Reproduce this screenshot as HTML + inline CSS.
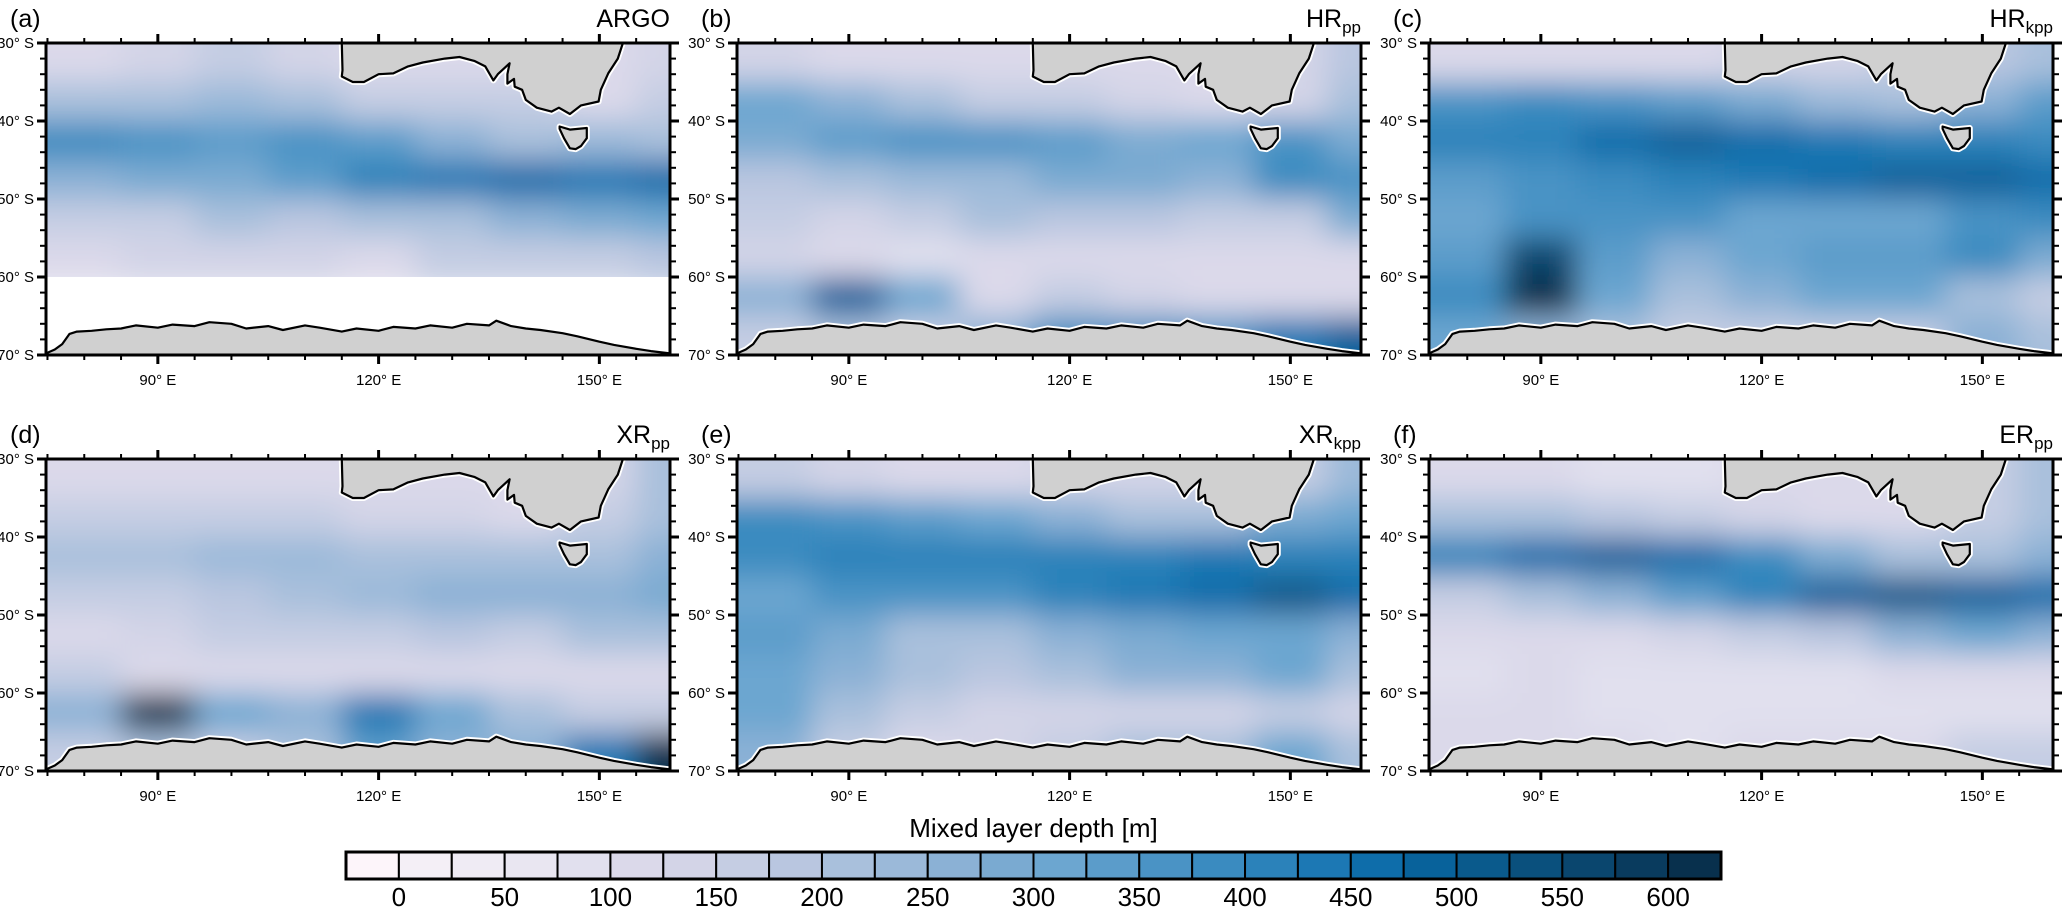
<!DOCTYPE html>
<html>
<head>
<meta charset="utf-8">
<style>
html,body{margin:0;padding:0;background:#fff;}
body{width:2067px;height:908px;overflow:hidden;font-family:"Liberation Sans",Arial,sans-serif;}
svg text{font-family:"Liberation Sans",Arial,sans-serif;}
</style>
</head>
<body>
<svg id="fig" width="2067" height="908" viewBox="0 0 2067 908" xmlns="http://www.w3.org/2000/svg">
<defs>
<filter id="blur" x="-10%" y="-10%" width="120%" height="120%"><feGaussianBlur stdDeviation="15"/></filter>
</defs>
</svg>
<script>
// ---- data ----
const panelLetters = ["(a)","(b)","(c)","(d)","(e)","(f)"];
const panelTitles = ["ARGO","HR","HR","XR","XR","ER"];
const panelSubs = ["","pp","kpp","pp","kpp","pp"];
const lonCenters = [80,90,100,110,120,130,140,150,160];
const latCenters = [32.5,37.5,42.5,47.5,52.5,57.5,62.5,67.5];
const latTicks = [30,40,50,60,70];
const lonTicks = [90,120,150];
const cbarLabels = [0,50,100,150,200,250,300,350,400,450,500,550,600];
const cbarColors = ["#fdf5fa","#f4eff6","#efebf4","#e9e6f1","#e1e0ee","#dbd9ea","#d3d4e7","#c5cde3","#b9c6e0","#a9c0dc","#9bb9d9","#8bb1d5","#7aaad1","#6ca6d0","#5b9cca","#4a93c5","#3a8bc0","#2b82ba","#1c78b4","#0e6daa","#08629b","#0a5a8c","#0a507d","#0a466e","#093b5e","#08304d"];
const mldA = [
[120,140,150,130,120,110,100,110,130],
[200,220,230,200,170,150,160,120,150],
[380,350,330,360,330,250,220,240,200],
[270,280,280,330,400,430,450,430,450],
[150,160,200,180,200,220,250,280,300],
[110,130,140,140,120,150,160,150,180],
[null,null,null,null,null,null,null,null,null],
[null,null,null,null,null,null,null,null,null]];
const mldB = [
[130,110,100,110,120,120,120,130,180],
[300,260,200,170,150,140,120,140,200],
[280,330,360,370,330,280,300,350,280],
[180,200,230,240,280,280,260,380,350],
[150,140,170,200,180,180,170,160,280],
[140,100,90,100,120,100,120,100,100],
[250,480,300,120,160,130,110,100,100],
[150,200,150,250,380,380,350,430,480]];
const mldC = [
[120,110,100,120,130,130,150,180,200],
[350,380,370,340,280,230,200,250,330],
[400,400,450,480,470,440,400,400,380],
[330,360,380,400,430,460,480,480,460],
[300,350,350,350,300,300,300,350,380],
[330,550,330,250,300,330,330,380,280],
[380,600,300,200,250,300,300,200,150],
[300,250,200,150,150,150,150,250,200]];
const mldD = [
[120,110,100,100,100,110,110,130,200],
[170,170,160,150,140,130,120,160,220],
[200,220,240,230,220,200,200,220,260],
[150,170,190,200,230,250,250,270,280],
[120,130,150,160,170,180,170,200,220],
[150,120,110,100,100,100,110,110,120],
[250,600,300,250,430,300,200,150,150],
[150,200,150,200,330,250,250,430,600]];
const mldE = [
[150,130,120,120,130,130,140,170,230],
[380,360,330,300,250,220,200,280,320],
[380,420,420,420,420,420,440,420,400],
[320,350,360,360,400,430,450,500,460],
[330,280,200,220,260,280,300,300,260],
[300,250,200,180,220,250,260,300,220],
[300,200,150,140,130,130,130,150,130],
[250,150,120,130,150,200,200,300,200]];
const mldF = [
[100,100,90,90,100,100,120,150,200],
[200,200,180,150,130,120,120,150,200],
[420,470,480,450,380,280,200,200,250],
[150,200,260,330,420,480,500,480,450],
[100,110,120,130,150,180,250,300,250],
[80,100,90,90,90,90,100,110,100],
[100,120,90,80,80,90,90,90,90],
[100,100,100,80,100,100,120,150,150]];
const fields = [mldA,mldB,mldC,mldD,mldE,mldF];
const australiaLon = [115.0,115.1,115.0,116.5,118,120,122,124,126,129,131,133,134.5,135.6,136.2,137.8,137.5,137.5,138.4,138.5,139.5,140,141.5,143.5,144.5,146.0,147.5,149.9,150.2,151.2,152.5,153.2];
const australiaLat = [30,33.5,34.3,35.0,35.0,34.0,33.9,33.0,32.5,32.0,31.8,32.3,33,34.8,34.0,32.6,34,35.2,34.6,35.6,36,37.3,38.3,38.8,38.3,39.1,38,37.5,36,33.9,32.0,30];
const tasmaniaLon = [144.6,146,148.3,148.3,147.5,146.8,146,145.2,144.6];
const tasmaniaLat = [40.7,41.1,40.9,42.2,43.2,43.6,43.5,42.2,41];
const antarcticaLon = [74.8,76,77,78,79,81,83,85,87,90,92,95,97,100,102,105,107,110,112,115,117,120,122,125,127,130,132,135,136,138,140,142,145,147,150,152,155,157,159.6];
const antarcticaLat = [69.8,69.3,68.6,67.3,67.0,66.9,66.7,66.6,66.2,66.5,66.1,66.3,65.8,66.0,66.6,66.3,66.8,66.2,66.5,67.0,66.6,66.9,66.4,66.6,66.2,66.5,66.0,66.2,65.6,66.3,66.6,66.8,67.2,67.6,68.3,68.7,69.2,69.5,69.8];

// ---- layout ----
const NS="http://www.w3.org/2000/svg";
const svg=document.getElementById('fig');
const colX=[46,737,1429], rowY=[43,459], PW=624, PH=312;
const LON0=74.8, LON1=159.6, LAT0=30, LAT1=70;
function mk(tag,attrs,parent){const e=document.createElementNS(NS,tag);for(const k in attrs)e.setAttribute(k,attrs[k]);(parent||svg).appendChild(e);return e;}
function colorFor(v){let i=v<0?0:Math.floor(v/25)+1;if(i>25)i=25;return cbarColors[i];}

for(let p=0;p<6;p++){
  const x0=colX[p%3], y0=rowY[Math.floor(p/3)];
  const X=lon=>x0+(lon-LON0)/(LON1-LON0)*PW;
  const Y=lat=>y0+(lat-LAT0)/(LAT1-LAT0)*PH;
  const g=mk('g',{});
  
  
  const cid='clip'+p;
  const cp=mk('clipPath',{id:cid},g);
  mk('rect',{x:x0,y:y0,width:PW,height:PH},cp);
  const clipG=mk('g',{'clip-path':'url(#'+cid+')'},g);
  mk('rect',{x:x0,y:y0,width:PW,height:PH,fill:'#fff'},clipG);
  const fg=mk('g',{filter:'url(#blur)'},clipG);
  
  
  const F=fields[p];
  for(let r=0;r<latCenters.length;r++){
    for(let c=0;c<lonCenters.length;c++){
      const v=F[r][c];
      if(v===null) continue;
      let xa=X(lonCenters[c]-5), xb=X(lonCenters[c]+5);
      let ya=Y(latCenters[r]-2.5), yb=Y(latCenters[r]+2.5);
      if(c===0) xa-=45; if(c===lonCenters.length-1) xb+=45;
      if(r===0) ya-=45; if(r===latCenters.length-1) yb+=45;
      if(p===0 && r===5) yb=Y(60)+10;
      const cell=mk('rect',{x:xa,y:ya,width:xb-xa+0.5,height:yb-ya+0.5,fill:colorFor(v)},fg);
      
      
    }
  }
  if(p===0){ mk('rect',{x:x0,y:Y(60),width:PW,height:PH,fill:'#fff'},clipG); }
  const poly=(lons,lats,extra)=>{let pts=lons.map((l,i)=>X(l).toFixed(1)+','+Y(lats[i]).toFixed(1));if(extra)pts=pts.concat(extra);return pts.join(' ');};
  const aus=poly(australiaLon,australiaLat,[X(115)+','+(y0-5)]);
  const tas=poly(tasmaniaLon,tasmaniaLat);
  const ant=poly(antarcticaLon,antarcticaLat,[(x0+PW+5)+','+(y0+PH+5),(x0-5)+','+(y0+PH+5)]);
  [aus,tas,ant].forEach((pts,i)=>{
    mk('polygon',{points:pts,fill:'none',stroke:'#fff','stroke-width':6,'stroke-linejoin':'round'},clipG);
    const land=mk('polygon',{points:pts,fill:'#d0d0d0',stroke:'#000','stroke-width':2.2,'stroke-linejoin':'round'},clipG);
    
    
  });
  const frame=mk('rect',{x:x0,y:y0,width:PW,height:PH,fill:'none',stroke:'#000','stroke-width':3},g);
  
  
  for(let lat=30;lat<=70;lat+=2){
    const maj=latTicks.includes(lat), L=maj?9:6, y=Y(lat);
    mk('line',{x1:x0-L,x2:x0,y1:y,y2:y,stroke:'#000','stroke-width':maj?3:2},g);
    mk('line',{x1:x0+PW,x2:x0+PW+L,y1:y,y2:y,stroke:'#000','stroke-width':maj?3:2},g);
  }
  for(let lon=75;lon<=155;lon+=5){
    const maj=lonTicks.includes(lon), L=maj?9:5, x=X(lon);
    mk('line',{x1:x,x2:x,y1:y0-L,y2:y0,stroke:'#000','stroke-width':maj?3:2},g);
    mk('line',{x1:x,x2:x,y1:y0+PH,y2:y0+PH+L,stroke:'#000','stroke-width':maj?3:2},g);
  }
  latTicks.forEach(lat=>{
    const t=mk('text',{x:x0-12,y:Y(lat)+5,'text-anchor':'end','font-size':15},g);
    t.textContent=lat+'° S';
    
    
  });
  lonTicks.forEach(lon=>{
    const t=mk('text',{x:X(lon),y:y0+PH+30,'text-anchor':'middle','font-size':15},g);
    t.textContent=lon+'° E';
    
    
  });
  const lt=mk('text',{x:x0-36,y:y0-16,'font-size':25},g);
  lt.textContent=panelLetters[p];
  
  
  const tt=mk('text',{x:x0+PW,y:y0-16,'text-anchor':'end','font-size':25},g);
  
  
  const m=mk('tspan',{},tt); m.textContent=panelTitles[p];
  if(panelSubs[p]){const s=mk('tspan',{'font-size':17,dy:6},tt); s.textContent=panelSubs[p];}
}

// colorbar
const CB_X=346, CB_Y=852, CB_W=1375, CB_H=27, n=cbarColors.length, bw=CB_W/n;
const cb=mk('g',{});


cbarColors.forEach((col,i)=>{
  const r=mk('rect',{x:CB_X+i*bw,y:CB_Y,width:bw,height:CB_H,fill:col,stroke:'#000','stroke-width':2},cb);
  
  
});
mk('rect',{x:CB_X,y:CB_Y,width:CB_W,height:CB_H,fill:'none',stroke:'#000','stroke-width':3},cb);
cbarLabels.forEach((v,i)=>{
  const t=mk('text',{x:CB_X+bw*(1+2*i),y:906,'text-anchor':'middle','font-size':26},cb);
  t.textContent=v;
  
  
});
const ttl=mk('text',{x:CB_X+CB_W/2,y:837,'text-anchor':'middle','font-size':26},cb);
ttl.textContent='Mixed layer depth [m]';


</script>
</body>
</html>
